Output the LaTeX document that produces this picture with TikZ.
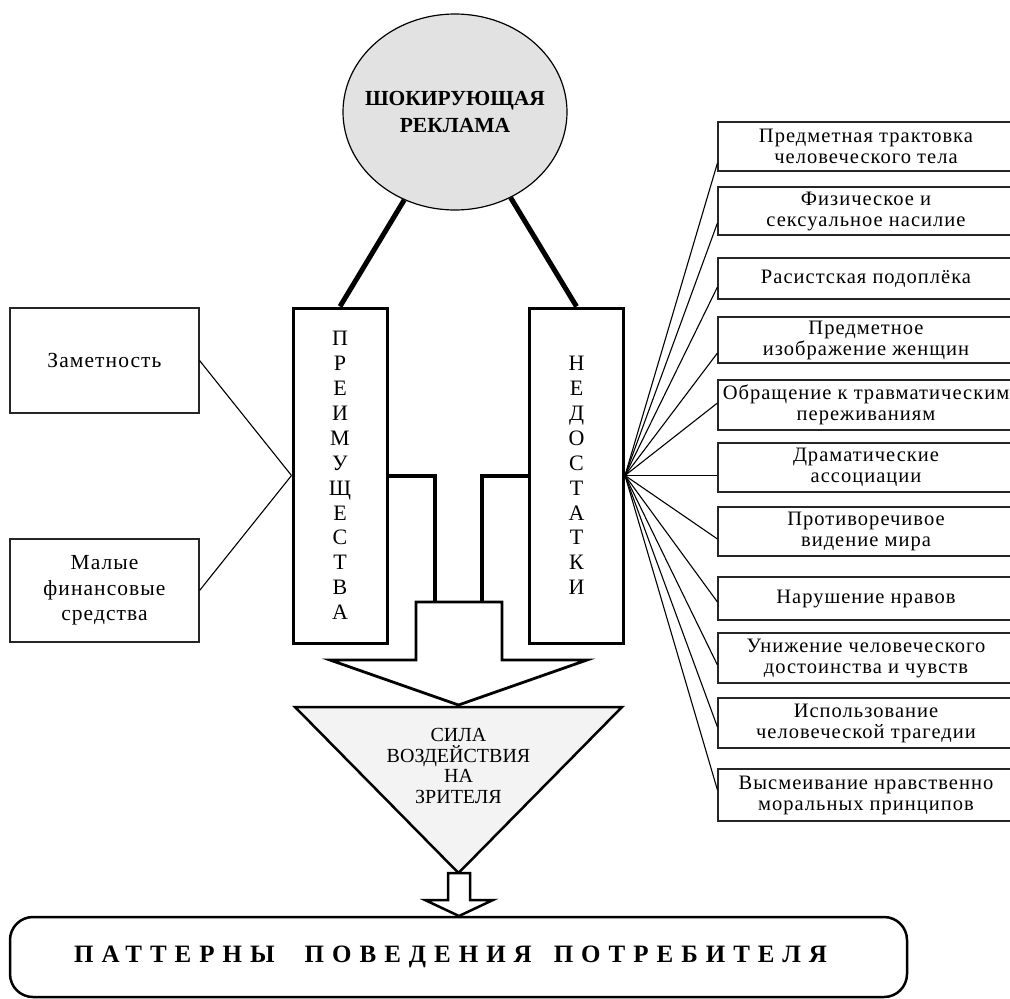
\documentclass[tikz,border=0pt]{standalone}
\usepackage{fontspec}
\setmainfont{Liberation Serif}
\usetikzlibrary{shapes.geometric,calc}
\definecolor{circgray}{HTML}{E2E2E2}
\definecolor{trigray}{HTML}{F3F3F3}
\definecolor{boxline}{HTML}{262626}
\begin{document}
\begin{tikzpicture}[x=1pt,y=-1pt,
  thinline/.style={line width=1.1pt, black},
  heavyline/.style={line width=5pt, black},
  midline/.style={line width=4pt, black},
  vbox/.style={draw, line width=3pt, minimum width=94pt, minimum height=335pt,
    inner sep=0pt, align=center, font=\fontsize{22}{24.9}\selectfont},
  rbox/.style={draw=boxline, line width=1.1pt, minimum width=296pt, inner sep=2pt,
    align=center, font=\fontsize{20.5}{21}\selectfont\addfontfeature{LetterSpace=5}},
  lbox/.style={draw=boxline, line width=1.1pt, minimum width=189pt, inner sep=2pt,
    align=center, font=\fontsize{21.5}{25.5}\selectfont\addfontfeature{LetterSpace=5}},
  shapeline/.style={line width=2.8pt, line join=miter, black}
]
\useasboundingbox (0,0) rectangle (1010,999);
\clip (0,0) rectangle (1010,999);

% circle
\node[ellipse, draw, fill=circgray, line width=1.2pt, minimum width=224pt,
  minimum height=196pt, inner sep=0pt,
  label={[font=\bfseries\fontsize{21.5}{27}\selectfont, align=center]center:ШОКИРУЮЩАЯ\\РЕКЛАМА}]
  (circ) at (455,112) {};

% vertical boxes
\node[vbox] (prei) at (340,475.5) {П\\Р\\Е\\И\\М\\У\\Щ\\Е\\С\\Т\\В\\А};
\node[vbox] (ned) at (576.5,475.5) {Н\\Е\\Д\\О\\С\\Т\\А\\Т\\К\\И};

\draw[heavyline] (circ.240) -- (prei.north);
\draw[heavyline] (circ.303) -- (ned.north);

% left boxes
\node[lbox, minimum height=105pt] (zam) at (104.5,360.5) {Заметность};
\node[lbox, minimum height=103pt] (mal) at (104.5,590.5) {Малые\\финансовые\\средства};
\draw[thinline] (zam.east) -- (prei.west);
\draw[thinline] (mal.east) -- (prei.west);

% right boxes
\foreach \i/\yc/\h/\txt in {
  1/146.5/49/{Предметная трактовка\\человеческого тела},
  2/211/48/{Физическое и\\сексуальное насилие},
  3/278.5/41/{Расистская подоплёка},
  4/340/46/{Предметное\\изображение женщин},
  5/405/50/{Обращение к травматическим\\переживаниям},
  6/467.5/49/{Драматические\\ассоциации},
  7/531.5/49/{Противоречивое\\видение мира},
  8/598.5/43/{Нарушение нравов},
  9/658/50/{Унижение человеческого\\достоинства и чувств},
  10/723/50/{Использование\\человеческой трагедии},
  11/795/52/{Высмеивание нравственно\\моральных принципов}}{
  \node[rbox, minimum height=\h pt] (b\i) at (866,\yc) {\txt};
}
\foreach \i/\s in {1/-16.5,2/-12,3/-8.5,4/-13,5/2,6/-8,7/-7.5,8/-3.5,9/-7,10/-4,11/5}{
  \draw[thinline] (ned.east) -- ([yshift=\s pt]b\i.west);
}

% middle connectors and big arrow
\coordinate (arrL) at (435,602);
\coordinate (arrR) at (482,602);
\draw[midline] (prei.east) -| (arrL);
\draw[midline] (ned.west) -| (arrR);
\draw[shapeline, fill=white] (416,602) -- (502,602) -- (502,660) -- (587,660)
  -- (458.5,705) -- (330,660) -- (416,660) -- cycle;

% triangle
\coordinate (apex) at (458.5,873);
\draw[shapeline, line width=2.5pt, fill=trigray] (295,707) -- (622,707) -- (apex) -- cycle;
\node[align=center, font=\fontsize{20}{20.7}\selectfont] (tritext) at (458.5,766)
  {СИЛА\\ВОЗДЕЙСТВИЯ\\НА\\ЗРИТЕЛЯ};

% small arrow
\draw[shapeline, line width=2.5pt, fill=white] (448,873) -- (470,873) -- (470,900)
  -- (493,900) -- (459,916) -- (425,900) -- (448,900) -- cycle;

% bottom box
\node[draw, rounded corners=23pt, line width=2.5pt, minimum width=897pt,
  minimum height=80pt,
  label={[xshift=-8pt, font=\bfseries\fontsize{25}{28}\selectfont]center:\addfontfeature{LetterSpace=32}ПАТТЕРНЫ\hspace*{30pt}ПОВЕДЕНИЯ\hspace*{22pt}ПОТРЕБИТЕЛЯ}]
  (patt) at (458.5,957) {};
\end{tikzpicture}
\end{document}
